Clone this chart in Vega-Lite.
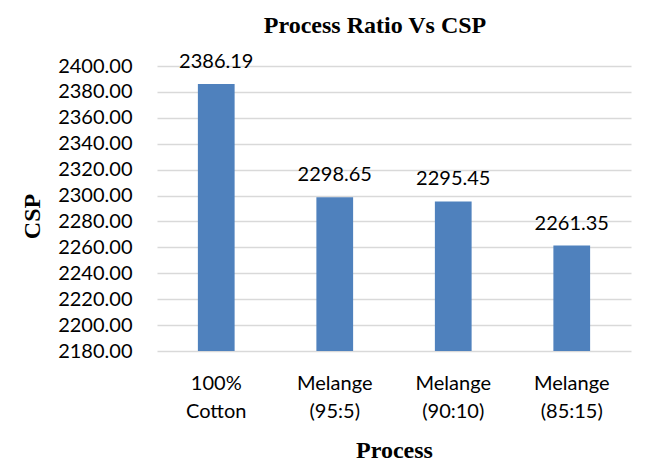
{
  "$schema": "https://vega.github.io/schema/vega-lite/v6.json",
  "autosize": {"type": "none"},
  "width": 474,
  "height": 285,
  "padding": {"left": 157, "top": 66, "right": 23, "bottom": 116},
  "background": "white",
  "title": {
    "text": "Process Ratio Vs CSP",
    "font": "Liberation Serif",
    "fontSize": 24,
    "fontWeight": "bold",
    "color": "black",
    "anchor": "middle",
    "dx": -19,
    "offset": 14
  },
  "data": {
    "values": [
      {"Process": "100% Cotton", "CSP": 2386.19},
      {"Process": "Melange (95:5)", "CSP": 2298.65},
      {"Process": "Melange (90:10)", "CSP": 2295.45},
      {"Process": "Melange (85:15)", "CSP": 2261.35}
    ]
  },
  "encoding": {
    "x": {
      "field": "Process",
      "type": "nominal",
      "sort": null,
      "scale": {"paddingInner": 0.69, "paddingOuter": 0.345},
      "axis": {
        "title": "Process",
        "titleFont": "Liberation Serif",
        "titleFontSize": 24,
        "titleFontWeight": "bold",
        "titleColor": "black",
        "titleBaseline": "alphabetic",
        "titleY": 106,
        "labelExpr": "split(datum.label, ' ')",
        "labelAngle": 0,
        "labelFont": "Lato",
        "labelFontSize": 20,
        "labelColor": "black",
        "labelLineHeight": 28,
        "labelPadding": 22,
        "ticks": false,
        "domain": false,
        "grid": false
      }
    },
    "y": {
      "field": "CSP",
      "type": "quantitative",
      "scale": {"domain": [2180, 2400], "nice": false, "zero": false},
      "axis": {
        "title": "CSP",
        "titleFont": "Liberation Serif",
        "titleFontSize": 24,
        "titleFontWeight": "bold",
        "titleColor": "black",
        "titleX": -113,
        "titleY": 150,
        "titleAngle": -90,
        "titleAlign": "center",
        "titleBaseline": "bottom",
        "values": [2180, 2200, 2220, 2240, 2260, 2280, 2300, 2320, 2340, 2360, 2380, 2400],
        "format": ".2f",
        "labelFont": "Lato",
        "labelFontSize": 20,
        "labelColor": "black",
        "labelPadding": 25,
        "ticks": false,
        "domain": false,
        "grid": true,
        "gridColor": "#d9d9d9",
        "gridWidth": 1.5
      }
    }
  },
  "layer": [
    {
      "mark": {"type": "bar", "color": "#4f81bd", "clip": true},
      "encoding": {"y2": {"datum": 2180}}
    },
    {
      "mark": {"type": "text", "font": "Lato", "fontSize": 20, "color": "black", "baseline": "alphabetic", "dy": -16},
      "encoding": {"text": {"field": "CSP", "type": "quantitative", "format": ".2f"}}
    }
  ],
  "config": {"view": {"stroke": null}}
}
